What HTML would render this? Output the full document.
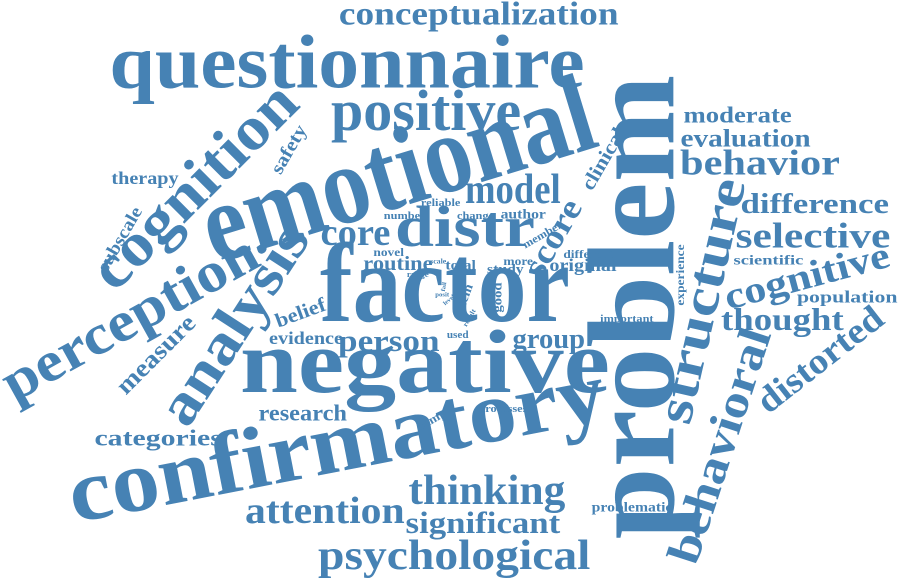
<!DOCTYPE html>
<html><head><meta charset="utf-8"><style>
html,body{margin:0;padding:0;background:#fff;}
#cloud{position:relative;width:900px;height:585px;overflow:hidden;}
#cloud span{position:absolute;left:0;top:0;white-space:nowrap;color:#4682b4;font-family:"Liberation Serif",serif;font-weight:bold;line-height:1;transform-origin:center center;}
</style></head><body>
<div id="cloud"></div>
<script>
// [word, centerX, centerY, fontSize, rotation, targetLength(0 = default)]
const words=[
["conceptualization",478,18,33,0,279],
["questionnaire",347,70,76,0,475],
["problem",645,307,124,-90,465],
["positive",426,117,58,0,190],
["emotional",400,180,112,-17,405],
["cognition",198,190,62,-45,265],
["perception",132,322,57,-29,285],
["analysis",238,327,58,-57,228],
["factor",445,295,112,0,250],
["negative",425,372,90,0,370],
["confirmatory",338,452,88,-11,545],
["distr",465,233,58,0,140],
["core",355,237,38,0,70],
["model",513,194,42,0,96],
["score",556,240,34,-60,0],
["clinical",605,160,20,-60,0],
["structure",707,302,52,-77,250],
["behavioral",724,447,46,-72,245],
["distorted",822,362,36,-38,150],
["moderate",737,117,23,0,108],
["evaluation",745,141,25,0,130],
["behavior",760,166,36,0,160],
["difference",814,207,29,0,148],
["selective",813,239,36,0,155],
["cognitive",808,280,38,-15,170],
["scientific",768,263,14,0,70],
["population",847,298,17,0,100],
["thought",782,322,32,0,123],
["experience",681,275,12,-90,0],
["important",627,320,11,0,0],
["problematic",632,510,14,0,0],
["thinking",487,495,42,0,157],
["significant",483,525,31,0,155],
["psychological",454,560,42,0,272],
["attention",325,515,38,0,160],
["processes",503,410,11,0,0],
["sample",437,418,12,-30,0],
["research",302,415,23,0,88],
["categories",158,440,23,0,127],
["measure",158,356,25,-45,0],
["person",389,343,31,0,102],
["group",549,342,29,0,73],
["evidence",306,340,18,0,0],
["belief",301,315,20,-20,0],
["safety",290,150,19,-60,0],
["therapy",145,180,18,0,0],
["subscale",121,240,18,-60,0],
["routine",398,266,20,0,0],
["total",460,268,14,0,0],
["study",505,272,14,0,0],
["original",583,267,18,0,0],
["different",588,255,12,0,0],
["more",518,262,12,0,0],
["member",543,236,11,-30,0],
["author",523,217,14,0,0],
["change",475,217,11,0,0],
["reliable",440,204,11,0,0],
["number",404,217,11,0,0],
["novel",388,253,12,0,0],
["scale",438,262,7,0,0],
["range",418,276,8,0,0],
["item",465,297,13,-70,0],
["good",498,297,13,-90,0],
["used",457,337,10,0,0],
["posit",442,296,6,0,0],
["fail",445,287,6,-80,0],
["level",450,301,6,-40,0],
["result",470,318,7,-60,0]
];
const c=document.getElementById('cloud');
for(const w of words){
  const s=document.createElement('span');
  
  
  s.textContent=w[0];
  s.style.fontSize=w[3]+'px';
  c.appendChild(s);
  const bw=s.offsetWidth, bh=s.offsetHeight;
  const sx=w[5]?w[5]/bw:1.12;
  s.style.left=(w[1]-bw/2)+'px';
  s.style.top=(w[2]-bh/2)+'px';
  s.style.transform='rotate('+w[4]+'deg) scaleX('+sx.toFixed(3)+') translateY(-0.1em)';
}
</script>
</body></html>
